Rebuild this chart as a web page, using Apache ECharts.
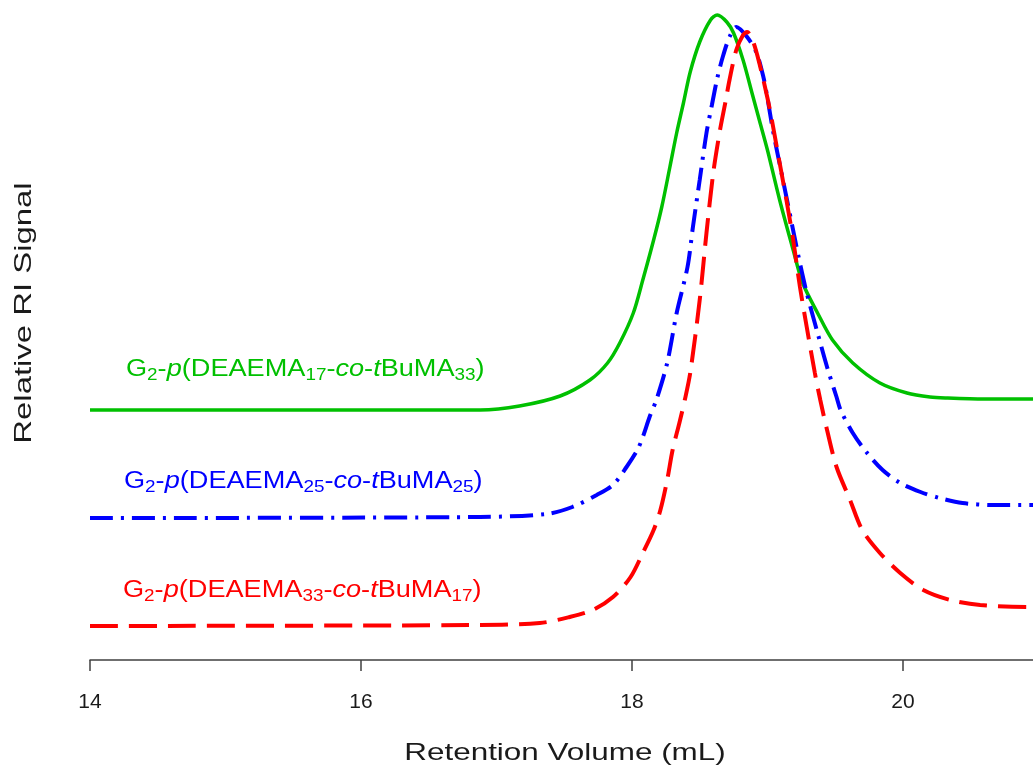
<!DOCTYPE html>
<html>
<head>
<meta charset="utf-8">
<script src="https://cdn.jsdelivr.net/npm/echarts@6/dist/echarts.min.js"></script>
<style>
html,body{margin:0;padding:0;background:#fff;}
#c{width:1033px;height:776px;}
</style>
</head>
<body>
<div id="c"></div>
<script>
// Retention volume ticks (mL)
var xTicks = [14, 16, 18, 20];

// G2-p(DEAEMA17-co-tBuMA33) — green, solid
var greenX = [14.00, 16.00, 16.88, 17.17, 17.47, 17.69, 17.82, 17.91, 18.01, 18.08, 18.16, 18.22, 18.28, 18.33, 18.38, 18.43, 18.50, 18.58, 18.63, 18.70, 18.75, 18.82, 18.89, 18.94, 19.00, 19.09, 19.19, 19.26, 19.37, 19.48, 19.63, 19.83, 20.03, 20.20, 20.32, 20.60, 21.00];
var greenY = [2.50, 2.50, 2.50, 2.54, 2.64, 2.80, 2.97, 3.17, 3.47, 3.80, 4.20, 4.53, 4.93, 5.27, 5.57, 5.88, 6.18, 6.40, 6.45, 6.38, 6.27, 6.00, 5.65, 5.40, 5.10, 4.60, 4.10, 3.77, 3.47, 3.20, 2.97, 2.77, 2.67, 2.63, 2.62, 2.61, 2.61];

// G2-p(DEAEMA25-co-tBuMA25) — blue, dash-dot
var blueX = [14.00, 16.88, 17.37, 17.56, 17.74, 17.86, 17.96, 18.04, 18.08, 18.13, 18.18, 18.26, 18.33, 18.41, 18.45, 18.50, 18.55, 18.59, 18.63, 18.67, 18.72, 18.77, 18.85, 18.92, 18.97, 19.00, 19.04, 19.11, 19.17, 19.23, 19.29, 19.37, 19.44, 19.51, 19.54, 19.63, 19.73, 19.85, 19.98, 20.13, 20.27, 20.44, 20.66, 21.00];
var blueY = [1.42, 1.43, 1.46, 1.53, 1.65, 1.75, 1.93, 2.10, 2.23, 2.43, 2.60, 2.97, 3.47, 3.93, 4.33, 4.80, 5.27, 5.55, 5.82, 6.03, 6.23, 6.33, 6.23, 6.07, 5.83, 5.62, 5.30, 4.83, 4.43, 4.03, 3.67, 3.27, 2.93, 2.63, 2.50, 2.27, 2.08, 1.90, 1.77, 1.68, 1.62, 1.57, 1.55, 1.55];

// G2-p(DEAEMA33-co-tBuMA17) — red, dashed
var redX = [14.00, 16.88, 17.32, 17.54, 17.71, 17.86, 17.99, 18.08, 18.16, 18.21, 18.26, 18.30, 18.35, 18.39, 18.43, 18.50, 18.55, 18.60, 18.65, 18.69, 18.72, 18.77, 18.82, 18.85, 18.89, 18.94, 19.00, 19.03, 19.07, 19.14, 19.19, 19.24, 19.29, 19.35, 19.39, 19.44, 19.51, 19.61, 19.70, 19.83, 19.98, 20.15, 20.35, 20.57, 20.94, 21.00];
var redY = [0.34, 0.35, 0.37, 0.43, 0.50, 0.63, 0.83, 1.07, 1.30, 1.50, 1.80, 2.10, 2.37, 2.60, 2.87, 3.60, 4.27, 4.87, 5.30, 5.58, 5.80, 6.10, 6.25, 6.28, 6.20, 5.97, 5.62, 5.42, 5.12, 4.60, 4.20, 3.73, 3.33, 2.87, 2.60, 2.30, 1.93, 1.60, 1.30, 1.07, 0.87, 0.70, 0.60, 0.55, 0.53, 0.53];

var seriesNames = ['G2-p(DEAEMA17-co-tBuMA33)', 'G2-p(DEAEMA25-co-tBuMA25)', 'G2-p(DEAEMA33-co-tBuMA17)'];

function pairs(xs, ys) { return xs.map(function (x, i) { return [x, ys[i]]; }); }

var GREEN = '#00c000', BLUE = '#0000ff', RED = '#ff0000', INK = '#1a1a1a';
var FONT = '"Liberation Sans", Arial, sans-serif';

function richLabel(a, b) {
  return '{n|G}{s|2}{n|-}{i|p}{n|(DEAEMA}{s|' + a + '}{n|-}{i|co}{n|-}{i|t}{n|BuMA}{s|' + b + '}{n|)}';
}
function richStyle(color) {
  return {
    n: { fontSize: 23, fontFamily: FONT, fill: color, lineHeight: 28, verticalAlign: 'middle' },
    i: { fontSize: 23, fontFamily: FONT, fontStyle: 'italic', fill: color, lineHeight: 28, verticalAlign: 'middle' },
    s: { fontSize: 16, fontFamily: FONT, fill: color, lineHeight: 28, verticalAlign: 'bottom' }
  };
}
function legendText(x, y, a, b, color) {
  return { type: 'text', x: x, y: y, scaleX: 1.18, scaleY: 1,
    style: { text: richLabel(a, b), rich: richStyle(color), fill: color, verticalAlign: 'top' } };
}

var chart = echarts.init(document.getElementById('c'), null, { renderer: 'canvas' });
chart.setOption({
  animation: false,
  backgroundColor: '#ffffff',
  grid: { left: 90, right: 0, top: 0, bottom: 116 },
  xAxis: {
    type: 'value',
    min: 14, max: 20.96,
    axisLine: { show: true, lineStyle: { color: '#404040', width: 1.5 } },
    axisTick: { show: true, length: 11, customValues: xTicks, lineStyle: { color: '#404040', width: 1.5 } },
    axisLabel: { customValues: xTicks, fontSize: 21, fontFamily: FONT, color: INK, margin: 32 },
    splitLine: { show: false }
  },
  yAxis: {
    type: 'value',
    min: 0, max: 6.6,
    axisLine: { show: false }, axisTick: { show: false }, axisLabel: { show: false }, splitLine: { show: false }
  },
  graphic: [
    { type: 'text', x: 565, y: 753, scaleX: 1.31, scaleY: 1,
      style: { text: 'Retention Volume (mL)', fontSize: 24, fontFamily: FONT, fill: INK, align: 'center', verticalAlign: 'middle' } },
    { type: 'text', x: 24, y: 313, rotation: Math.PI / 2, scaleX: 1.37, scaleY: 1,
      style: { text: 'Relative RI Signal', fontSize: 24, fontFamily: FONT, fill: INK, align: 'center', verticalAlign: 'middle' } },
    legendText(126, 356, 17, 33, GREEN),
    legendText(124, 468, 25, 25, BLUE),
    legendText(123, 577, 33, 17, RED)
  ],
  series: [
    { name: seriesNames[0], type: 'line', data: pairs(greenX, greenY), showSymbol: false, smooth: 0.3,
      lineStyle: { color: GREEN, width: 3.5, type: 'solid' } },
    { name: seriesNames[1], type: 'line', data: pairs(blueX, blueY), showSymbol: false, smooth: 0.3,
      lineStyle: { color: BLUE, width: 4, type: [23, 8, 3, 8] } },
    { name: seriesNames[2], type: 'line', data: pairs(redX, redY), showSymbol: false, smooth: 0.3,
      lineStyle: { color: RED, width: 4, type: [28, 11] } }
  ]
});
</script>
</body>
</html>
